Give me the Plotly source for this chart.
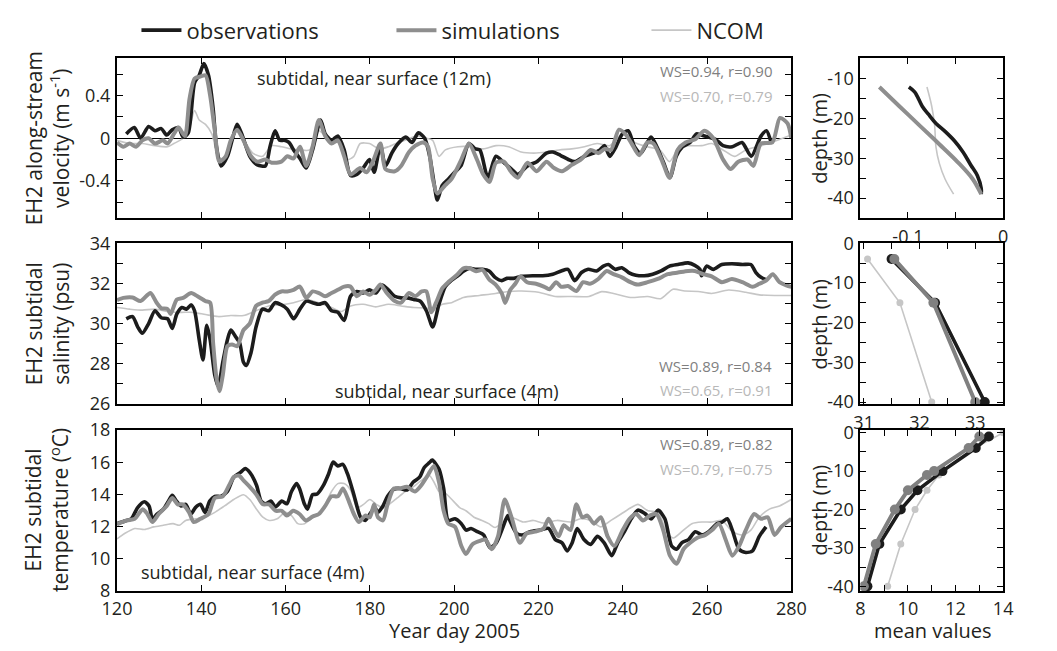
import plotly.graph_objects as go

# ---------------- data: time series (Year day 2005) ----------------
vel_obs_day = [122.2,124.1,125.6,127.5,129,130.5,131.8,133.1,134.6,135.7,136.9,138.4,139.5,140.6,141.7,142.8,143.6,144.7,146.2,147.3,
               148.5,149.6,151.5,153.3,155.2,156.3,157.5,158.6,159.7,160.8,161.9,163.4,164.9,166.4,168.3,169.4,170.9,172.4,173.9,175.4,
               176.9,178.4,179.9,181,182.5,183.7,185.2,186.7,188.5,190,191.5,193,194.2,195.3,196,197.2,198.7,
               200.1,201.6,203.5,205,206.1,208,209.9,211.8,213.6,215.1,217.4,219.6,221.9,223.4,225.2,227.1,228.6,230.9,233.1,234.6,
               235.7,236.9,238.4,239.9,241.3,242.8,244.3,246.7,248.1,249.7,251.2,252.7,254.2,256,257.5,259.4,262,263.8,266,268.3,
               270.5,272.8,274.1,275.2]
vel_obs = [0.04,0.10,0.0,0.11,0.07,0.09,0.03,0.08,0.10,0.01,0.05,0.52,0.59,0.70,0.59,0.28,-0.08,-0.26,-0.17,-0.02,
           0.13,0.04,-0.17,-0.25,-0.26,-0.08,0.07,-0.02,-0.02,-0.04,-0.11,-0.19,-0.28,-0.11,0.17,0.04,-0.02,0.02,-0.11,-0.35,
           -0.34,-0.28,-0.20,-0.32,-0.07,-0.26,-0.14,-0.05,0.01,-0.04,0.05,0.0,-0.17,-0.44,-0.58,-0.44,-0.38,
           -0.32,-0.26,-0.05,-0.10,-0.11,-0.37,-0.17,-0.23,-0.29,-0.34,-0.26,-0.22,-0.14,-0.13,-0.16,-0.20,-0.22,-0.17,-0.14,-0.11,
           -0.07,-0.17,-0.08,0.04,0.07,-0.08,-0.14,0.01,-0.08,-0.23,-0.37,-0.17,-0.08,-0.04,0.04,0.02,-0.01,-0.07,-0.08,-0.04,
           -0.17,0.02,0.07,-0.04]

vel_sim_day = [120,121.5,123,124.5,126,127.5,129,130.9,132,133.5,134.6,136.1,137.2,138.4,139.9,141,142.1,143.2,144.3,145.8,
               147,148.5,150,151.8,153.3,155.2,156.7,159,160.4,161.9,163.4,164.9,166.4,167.9,169.4,170.9,172.4,173.9,175.4,177.7,
               179.2,180.7,182.5,183.7,185.9,187.4,189.3,190.8,192.7,193.8,194.9,196,197.9,
               199.4,201.7,203.5,205.4,206.9,208.4,209.9,211.8,213.6,215.1,217.4,219.6,221.9,223.7,225.6,227.9,230.1,232.4,234.2,235.7,
               237.2,239.1,240.6,242.1,243.9,245.8,247.3,249.2,251.1,253,254.9,257.2,259.4,261.5,263.8,265.6,267.4,269.6,271,272.8,
               275.5,277.3,279.1,280]
vel_sim = [-0.04,-0.08,-0.05,-0.08,-0.02,0.0,-0.05,-0.02,-0.05,0.04,0.10,0.02,0.37,0.56,0.58,0.59,0.40,0.07,-0.22,-0.17,
           -0.02,0.08,-0.02,-0.17,-0.22,-0.20,-0.23,-0.22,-0.17,-0.19,-0.08,-0.26,-0.08,0.17,0.02,-0.05,-0.02,-0.17,-0.34,-0.28,
           -0.32,-0.22,-0.05,-0.29,-0.31,-0.26,-0.13,-0.07,-0.04,-0.08,-0.38,-0.52,-0.44,
           -0.38,-0.20,-0.05,-0.20,-0.34,-0.41,-0.23,-0.22,-0.32,-0.37,-0.23,-0.31,-0.22,-0.28,-0.31,-0.25,-0.20,-0.11,-0.14,-0.10,
           -0.11,0.08,0.04,-0.05,-0.16,-0.04,-0.05,-0.20,-0.37,-0.11,-0.04,-0.01,0.07,0.0,-0.20,-0.29,-0.22,-0.20,-0.26,-0.05,
           -0.04,0.19,0.14,0.0]

vel_ncom_day = [120,123,126,129,132,133.5,135.7,137.2,138.4,139.5,141,142.5,144,145.5,147,148.5,150,152.2,154.5,156.7,
                159,161.2,163.4,165.7,167.9,170.2,172.4,174.7,176.2,177.7,179.9,182.2,184.4,186.7,188.9,191.2,193.4,194.9,196.4,197.9,
                200.9,203.9,206.9,209.9,212.9,215.9,218.9,221.9,224.9,227.9,230.9,233.9,236.9,239.9,242.8,245.8,248.8,251.1,253.4,255.7,
                258.7,261.1,263.8,266.5,269.2,271.9,274.6,277.3,280]
vel_ncom = [-0.02,-0.05,-0.05,-0.07,-0.08,-0.05,0.0,0.10,0.26,0.17,0.13,0.04,-0.17,-0.20,-0.05,0.07,-0.01,-0.14,-0.17,-0.07,
            -0.08,-0.10,-0.11,-0.11,0.07,-0.01,-0.04,-0.20,-0.17,-0.05,-0.05,-0.10,-0.08,-0.04,-0.01,0.02,0.0,-0.02,-0.17,-0.11,
            -0.08,-0.08,-0.10,-0.07,-0.08,-0.13,-0.14,-0.13,-0.11,-0.10,-0.08,-0.05,-0.07,0.04,-0.04,-0.08,-0.11,-0.22,-0.08,-0.07,
            -0.07,-0.05,-0.11,-0.17,-0.11,-0.08,-0.05,-0.01,0.03]

sal_obs_day = [122.2,123.7,124.9,126,127.5,129,130.5,132,133.1,134.2,135.4,136.5,137.6,138.4,139.5,140.4,141.3,142.1,143.2,144,
               145.1,146.2,147,148.1,149.1,150,150.7,151.8,153,154.5,156,157.5,159,160.4,161.9,163.4,164.9,166.4,167.9,169.4,
               170.9,172.4,173.9,175.4,176.9,178.4,179.9,181.4,182.9,184.4,185.9,187.4,188.9,190.4,191.9,193.4,194.9,196.4,197.9,199.4,
               201,202.2,203.7,205.2,206.7,208.3,209.7,211.3,212.5,214.1,216.1,218.6,221,223.4,225.4,227,228.6,230.2,231.8,233.8,
               235.4,236.6,238.2,239.8,241.4,243.1,245.1,247.1,249.1,251.1,253.1,255.5,257.1,258.3,258.7,259.9,261.5,263.5,265.9,268.4,
               270.4,271.6,272.8,274]
sal_obs = [30.24,30.35,29.84,29.52,30.0,30.64,30.29,30.24,29.76,30.48,30.8,30.72,30.93,30.64,29.2,28.19,29.92,29.2,27.44,26.88,
           28.08,29.2,29.68,29.36,29.04,28.08,27.92,28.56,29.84,30.72,30.64,31.04,30.93,30.72,30.24,30.72,31.12,31.04,30.96,31.04,
           30.64,30.56,30.16,31.36,31.6,31.52,31.68,31.52,31.92,31.68,31.36,31.28,31.28,31.2,31.12,30.64,29.84,30.96,31.84,32.16,
           32.4,32.6,32.75,32.7,32.7,32.62,32.3,32.14,32.25,32.25,32.35,32.38,32.38,32.46,32.62,32.7,32.14,32.54,32.7,32.62,
           32.86,32.94,32.7,32.78,32.54,32.41,32.38,32.46,32.62,32.86,32.94,33.02,32.9,32.7,32.38,32.86,32.7,32.94,32.98,32.94,
           32.94,32.54,32.3,32.19]

sal_sim_day = [120,121.5,123.7,125.6,127.9,129.4,130.5,132,132.7,134.2,135.7,137.6,139.1,141,142.1,142.8,143.6,144.3,145.1,146.2,
               147.3,148.5,150,151.5,153,154.5,156,157.5,159,160.4,161.9,163.4,164.9,166.4,167.9,169.4,170.9,172.4,173.9,175.4,
               176.9,178.4,179.9,181.4,182.5,184,185.9,187.4,189.3,190.8,192.3,193.4,194.6,195.7,197.2,198.7,
               200.7,202.2,203.7,205.2,206.7,208.3,209.8,211.3,212.1,213.3,214.5,215.7,217.3,219.4,221.4,222.6,224.2,225.4,227,229,
               230.6,232.2,234.2,236.2,237.8,239.8,241.8,243.5,245.9,248.3,250.7,253.1,255.5,257.1,259.1,261.1,263.5,265.9,268.4,270.8,
               272.4,274,275.6,277.2,278.8,280]
sal_sim = [31.17,31.28,31.3,31.12,31.52,31.04,30.77,30.72,30.48,31.2,31.28,31.52,31.36,31.12,31.04,29.04,27.28,26.64,27.44,28.88,
           28.96,28.88,29.68,30.0,30.88,31.04,31.12,31.44,31.6,31.6,31.68,31.84,31.28,31.6,31.52,31.36,31.52,31.68,31.84,31.84,
           31.36,31.6,31.44,31.68,31.95,31.52,31.12,31.04,31.52,31.36,31.6,31.6,30.56,31.04,31.76,32.08,
           32.43,32.75,32.75,32.6,32.67,32.2,31.95,31.5,31.03,31.67,31.98,32.35,32.06,31.98,31.83,31.71,32.06,31.83,31.87,31.62,
           32.06,31.98,32.22,32.62,32.46,32.3,32.06,31.94,32.06,32.22,32.46,32.54,32.62,32.62,32.46,32.35,32.06,32.22,32.06,31.83,
           31.98,32.14,32.46,32.06,31.9,31.83]

sal_ncom_day = [120,123,126,129,132,135,138,141,144,147,150,153,156,159,161.9,164.9,167.9,170.9,173.2,175.4,
                178.4,181.4,184.4,187.4,190.4,193.4,194.9,197.2,199.4,202.2,206,209.8,212.8,216,220,224,228,232,235,237.8,
                241.8,245.9,249,251.9,254.7,257.9,261.1,265.1,269.2,272.4,276.4,280]
sal_ncom = [30.8,30.72,30.67,30.72,30.6,30.56,30.56,30.45,30.35,30.4,30.4,30.64,30.88,30.93,31.04,31.2,31.04,30.8,30.6,30.88,
            30.96,30.83,30.96,30.88,30.8,30.77,30.67,30.96,31.04,31.3,31.4,31.5,31.6,31.62,31.56,31.35,31.35,31.35,31.59,31.5,
            31.3,31.35,31.24,31.71,31.62,31.6,31.5,31.67,31.56,31.43,31.4,31.4]

tmp_obs_day = [120.0,121.9,123.4,124.9,126.5,127.6,128.4,129.5,131.0,132.2,133.1,134.1,135.2,136.3,137.5,138.6,139.8,140.9,142.0,143.2,
               144.7,146.2,147.7,149.3,150.4,151.5,153.1,154.2,155.3,156.5,157.6,159.1,160.3,161.4,162.6,163.3,164.5,165.2,166.4,167.5,
               169.0,170.2,171.3,172.4,173.6,174.7,176.2,177.8,178.9,180.0,181.2,181.9,183.1,184.2,185.7,187.2,188.8,190.3,191.8,192.9,
               194.1,194.8,196.4,197.5,198.6,200.2,201.7,202.8,204.0,205.5,207.0,208.5,210.0,211.6,212.7,
               213.2,214.8,216.4,218,220.4,222.4,224,225.6,226.8,228,229.2,230.8,232.4,234,235.6,237.4,238.8,240.4,242,243.6,
               245.2,246.8,248.4,250,251.6,252.8,254,255.6,257.2,258.8,260.4,262.4,263.6,264.8,266,267.6,269.2,270.8,272.4,274]
tmp_obs = [12.18,12.34,12.48,13.18,13.54,13.28,12.48,12.78,13.08,13.58,13.94,13.58,13.28,13.38,12.78,13.18,13.38,12.88,13.58,13.88,
           13.88,14.18,15.07,15.37,15.61,15.37,14.57,13.58,13.42,13.58,13.22,13.58,13.42,14.18,14.67,14.37,13.38,13.08,13.98,14.02,
           14.57,15.27,16.01,15.77,15.87,15.27,13.98,12.58,12.38,12.78,13.18,12.88,13.28,13.88,14.33,14.37,14.27,14.77,15.07,15.67,
           15.97,16.13,15.57,14.37,12.38,12.48,12.18,11.78,11.88,11.68,11.48,10.69,10.99,11.98,12.68,
           12.38,11.58,11.48,11.68,11.78,11.88,11.19,10.99,10.49,10.99,11.88,11.19,10.89,11.39,10.99,10.19,10.99,11.68,12.48,13.02,
           12.82,12.48,13.02,12.48,10.79,10.59,10.99,11.19,11.68,11.48,11.68,12.18,12.28,12.48,11.78,10.59,10.39,10.49,11.39,11.98]

tmp_sim_day = [120.0,122.3,124.2,126.1,127.2,128.4,129.9,131.8,133.1,134.4,135.6,137.1,138.2,139.8,141.7,143.2,145.1,146.6,147.7,148.9,
               150.0,151.5,153.1,154.6,156.1,157.6,159.1,160.3,161.8,163.3,164.8,166.4,167.9,169.4,170.9,172.4,173.6,174.7,176.2,177.4,
               178.9,180.0,181.0,181.9,183.1,184.2,185.7,187.2,188.8,190.7,192.2,193.7,195.2,196.4,197.5,198.6,200.2,201.7,202.8,204.3,
               205.9,207.4,208.9,210.4,212.0,
               213.6,215.6,217.2,219.2,221.2,222.4,223.6,224.8,226,227.6,229,230.4,231.6,233.2,234.8,236.4,238,240,241.6,243.2,
               244.8,246.4,248,249.6,251.2,252.8,254.4,256,257.6,259.6,261.2,262.8,264.4,266,267.6,269.2,271.2,272.8,274.4,276,
               277.6,280]
tmp_sim = [12.14,12.38,12.48,13.08,12.78,12.28,12.78,13.28,13.78,13.38,13.38,12.88,12.28,12.48,12.78,13.78,13.88,14.57,15.07,15.17,
           14.87,14.47,13.98,13.38,13.38,12.98,12.98,12.68,12.98,12.78,12.38,12.62,12.78,13.28,13.88,13.88,14.37,13.78,12.78,12.28,
           12.68,12.58,13.38,12.58,12.38,13.38,14.37,14.37,14.47,14.18,14.57,15.17,15.77,14.77,12.98,12.18,11.98,10.79,10.29,10.89,
           11.09,11.19,10.59,11.39,13.68,
           12.58,10.99,11.58,11.68,11.88,12.48,11.88,11.39,12.08,11.78,13.38,12.58,12.68,12.18,12.58,11.39,10.79,11.78,12.48,12.78,
           12.38,12.68,12.78,11.78,10.19,9.69,10.59,10.99,11.29,11.48,11.78,12.18,11.19,10.19,10.79,11.78,12.78,12.48,12.58,11.48,
           11.98,12.48]

tmp_ncom_day = [120,121.9,124.2,126.5,128.7,131,133.3,134.8,136.3,138.6,140.9,143.2,145.5,147.7,150,151.5,153.1,154.6,156.1,158,
                159.9,161.4,162.9,164.5,166,167.9,169.4,170.9,172.4,173.9,175.4,177,178.5,180,181.5,183.1,184.6,186.5,188.4,190.3,
                192.2,194.1,195.2,196.4,197.9,199.8,201.3,202.8,204.7,206.6,208.2,209.7,211.6,213.5,
                216.4,218.8,221.2,224.4,227.6,230,232.4,234.8,237.2,239.6,242,243.6,246,248.4,250.4,252,254,256.4,258.8,261.2,
                263.6,266,268.4,270.4,272.4,274.8,277.2,280]
tmp_ncom = [11.23,11.58,11.88,11.82,11.98,12.08,12.18,12.08,12.38,12.48,12.58,12.88,13.28,13.68,13.98,13.68,13.08,12.58,12.38,12.48,
            12.88,12.68,12.18,12.18,12.48,12.78,13.38,14.18,14.67,14.67,14.27,13.18,13.38,13.68,13.38,13.18,13.38,13.78,14.18,14.47,
            14.87,15.17,14.77,14.18,14.08,13.58,13.18,12.98,12.58,12.38,12.18,11.94,12.28,12.58,
            12.28,12.38,12.22,12.38,12.28,12.48,12.38,11.98,12.38,12.78,13.18,13.38,12.98,12.88,11.68,11.29,11.68,12.18,12.28,12.28,
            12.38,11.68,11.48,11.78,12.58,13.08,13.28,13.68]

# ---------------- data: mean profiles ----------------
pv_obs_val = [-0.099,-0.093,-0.090,-0.085,-0.0785,-0.0705,-0.061,-0.051,-0.042,-0.034,-0.027,-0.023,-0.023]
pv_obs_dep = [-12.2,-13.4,-14.6,-17,-19,-21.3,-23.3,-25.7,-28.5,-31.7,-34.4,-37.6,-39]
pv_sim_val = [-0.13,-0.109,-0.0865,-0.067,-0.048,-0.032,-0.023]
pv_sim_dep = [-12.2,-17,-22.1,-26.5,-30.9,-35.2,-39]
pv_ncom_val = [-0.080,-0.075,-0.072,-0.0705,-0.067,-0.061,-0.052]
pv_ncom_dep = [-12.2,-17,-21.7,-27.3,-31.3,-35.2,-39]

ps_dep = [-4, -15, -40]
ps_obs = [31.5, 32.28, 33.17]
ps_sim = [31.55, 32.25, 33.0]
ps_ncom = [31.07, 31.65, 32.22]

pt_obs_dep = [-1, -4, -10, -15, -20, -29, -40]
pt_obs = [13.4, 12.85, 11.45, 10.4, 9.7, 8.8, 8.3]
pt_sim_dep = [-1, -4, -10, -11, -15, -20, -29, -40]
pt_sim = [13.0, 12.55, 11.1, 10.8, 10.0, 9.45, 8.65, 8.15]
pt_ncom_dep = [0, -4, -10, -11, -15, -20, -29, -40]
pt_ncom = [14.0, 12.8, 11.45, 11.3, 10.8, 10.3, 9.7, 9.15]

# ---------------- styling ----------------
W, H = 1057, 651
C_OBS, C_SIM, C_NCOM = '#1c1c1c', '#8e8e8e', '#c6c6c6'
C_SIM_P = '#808080'
FONT = 'Open Sans'
TXT = '#231f20'

def px_x(x): return x / W
def px_y(y): return 1 - y / H

MAIN_X = [px_x(105), px_x(799)]
RIGHT_X = [px_x(870), px_x(1017)]
ROW_Y = [[px_y(213), px_y(47)], [px_y(406), px_y(239)], [px_y(600), px_y(433)]]

fig = go.Figure()

def series(x, y, color, width, xa, ya, name=None, legend=False, rank=None):
    fig.add_trace(go.Scatter(x=x, y=y, mode='lines', name=name, showlegend=legend,
                             legendrank=rank if rank else 1000,
                             line=dict(color=color, width=width, shape='spline', smoothing=0.7),
                             xaxis=xa, yaxis=ya, hoverinfo='skip'))

# top row
series(vel_ncom_day, vel_ncom, C_NCOM, 1.6, 'x', 'y', 'NCOM', True, 3)
series(vel_obs_day, vel_obs, C_OBS, 3.6, 'x', 'y', 'observations', True, 1)
series(vel_sim_day, vel_sim, C_SIM, 4.0, 'x', 'y', 'simulations', True, 2)
# middle row
series(sal_ncom_day, sal_ncom, C_NCOM, 1.6, 'x2', 'y2')
series(sal_obs_day, sal_obs, C_OBS, 3.6, 'x2', 'y2')
series(sal_sim_day, sal_sim, C_SIM, 4.0, 'x2', 'y2')
# bottom row
series(tmp_ncom_day, tmp_ncom, C_NCOM, 1.6, 'x3', 'y3')
series(tmp_obs_day, tmp_obs, C_OBS, 3.6, 'x3', 'y3')
series(tmp_sim_day, tmp_sim, C_SIM, 4.0, 'x3', 'y3')

# profiles
def prof(x, y, color, width, xa, ya, msize=None):
    fig.add_trace(go.Scatter(x=x, y=y, mode='lines+markers' if msize else 'lines', showlegend=False,
                             line=dict(color=color, width=width, shape='spline' if not msize else 'linear'),
                             marker=dict(size=msize or 1, color=color),
                             xaxis=xa, yaxis=ya, hoverinfo='skip'))

prof(pv_ncom_val, pv_ncom_dep, C_NCOM, 1.6, 'x4', 'y4')
prof(pv_obs_val, pv_obs_dep, C_OBS, 3.6, 'x4', 'y4')
prof(pv_sim_val, pv_sim_dep, C_SIM, 4.0, 'x4', 'y4')
prof(ps_ncom, ps_dep, C_NCOM, 1.6, 'x5', 'y5', 7)
prof(ps_obs, ps_dep, C_OBS, 3.6, 'x5', 'y5', 10)
prof(ps_sim, ps_dep, C_SIM_P, 4.0, 'x5', 'y5', 10)
prof(pt_ncom, pt_ncom_dep, C_NCOM, 1.6, 'x6', 'y6', 7)
prof(pt_obs, pt_obs_dep, C_OBS, 3.6, 'x6', 'y6', 10)
prof(pt_sim, pt_sim_dep, C_SIM_P, 4.0, 'x6', 'y6', 10)

tickfont = dict(family=FONT, size=18, color=TXT)

def ax(domain, rng, tickvals, ticktext, anchor, showlabels=True, zeroline=False):
    return dict(domain=domain, range=rng, tickvals=tickvals, ticktext=ticktext,
                showticklabels=showlabels, anchor=anchor, ticks='inside', ticklen=6, tickwidth=1.3,
                tickcolor='black', showline=True, linecolor='black', linewidth=2, mirror='ticks',
                showgrid=False, zeroline=zeroline, zerolinecolor='black', zerolinewidth=1,
                tickfont=tickfont, ticklabelstandoff=1)

day_ticks = [120, 140, 160, 180, 200, 220, 240, 260, 280]
day_text = [str(d) for d in day_ticks]

layout_axes = {}
layout_axes['xaxis'] = ax(MAIN_X, [120, 280], day_ticks, day_text, 'y', False)
layout_axes['xaxis2'] = ax(MAIN_X, [120, 280], day_ticks, day_text, 'y2', False)
layout_axes['xaxis3'] = ax(MAIN_X, [120, 280], day_ticks, day_text, 'y3', True)
layout_axes['yaxis'] = ax(ROW_Y[0], [-0.75, 0.75], [-0.6, -0.4, -0.2, 0, 0.2, 0.4, 0.6],
                          [' ', '-0.4', ' ', '0', ' ', '0.4', ' '], 'x', True, True)
layout_axes['yaxis2'] = ax(ROW_Y[1], [26, 34], [26, 27, 28, 29, 30, 31, 32, 33, 34],
                           ['26', ' ', '28', ' ', '30', ' ', '32', ' ', '34'], 'x2')
layout_axes['yaxis3'] = ax(ROW_Y[2], [8, 18], [8, 10, 12, 14, 16, 18],
                           ['8', '10', '12', '14', '16', '18'], 'x3')

layout_axes['xaxis4'] = ax(RIGHT_X, [-0.15, 0], [-0.15, -0.1, -0.05, 0], [' ', '-0.1', ' ', '0'], 'y4')
layout_axes['yaxis4'] = ax(ROW_Y[0], [-45, -5], [-45, -40, -35, -30, -25, -20, -15, -10, -5],
                           [' ', '-40', ' ', '-30', ' ', '-20', ' ', '-10', ' '], 'x4')
layout_axes['xaxis5'] = ax(RIGHT_X, [30.94, 33.5], [31, 31.5, 32, 32.5, 33, 33.5], ['31', ' ', '32', ' ', '33', ' '], 'y5')
layout_axes['yaxis5'] = ax(ROW_Y[1], [-40.5, 0], [-40, -35, -30, -25, -20, -15, -10, -5, 0],
                           ['-40', ' ', '-30', ' ', '-20', ' ', '-10', ' ', '0'], 'x5')
layout_axes['xaxis6'] = ax(RIGHT_X, [8, 14], [8, 9, 10, 11, 12, 13, 14], ['8', ' ', '10', ' ', '12', ' ', '14'], 'y6')
layout_axes['yaxis6'] = ax(ROW_Y[2], [-41.2, 0.7], [-40, -35, -30, -25, -20, -15, -10, -5, 0],
                           ['-40', ' ', '-30', ' ', '-20', ' ', '-10', ' ', '0'], 'x6')

ann = []
def text(x, y, s, size, color=TXT, xanchor='center', angle=0):
    ann.append(dict(x=px_x(x), y=px_y(y), xref='paper', yref='paper', text=s, showarrow=False,
                    xanchor=xanchor, yanchor='middle', textangle=angle,
                    font=dict(family=FONT, size=size, color=color)))

# y titles
text(33, 130, 'EH2 along-stream<br>velocity (m s<sup>-1</sup>)', 21, angle=-90)
text(33, 323, 'EH2 subtidal<br>salinity (psu)', 21, angle=-90)
text(33, 516, 'EH2 subtidal<br>temperature (<sup>o</sup>C)', 21, angle=-90)
text(828, 130, 'depth (m)', 20, angle=-90)
text(828, 323, 'depth (m)', 20, angle=-90)
text(828, 516, 'depth (m)', 20, angle=-90)
# x titles
text(452, 641, 'Year day 2005', 20)
text(945, 641, 'mean values', 20)
# panel notes
text(370, 67, 'subtidal, near surface (12m)', 18)
text(445, 392, 'subtidal, near surface (4m)', 18)
text(245, 580, 'subtidal, near surface (4m)', 18)
for (yy, s, c) in [(60, 'WS=0.94, r=0.90', '#7f7f7f'), (86, 'WS=0.70, r=0.79', '#b8b8b8'),
                   (366, 'WS=0.89, r=0.84', '#7f7f7f'), (391, 'WS=0.65, r=0.91', '#b8b8b8'),
                   (447, 'WS=0.89, r=0.82', '#7f7f7f'), (473, 'WS=0.79, r=0.75', '#b8b8b8')]:
    text(781, yy, s, 15, color=c, xanchor='right')

fig.update_layout(
    width=W, height=H, margin=dict(l=0, r=0, t=0, b=0),
    paper_bgcolor='white', plot_bgcolor='white',
    showlegend=True,
    legend=dict(orientation='h', x=px_x(125), y=px_y(18), xanchor='left', yanchor='middle',
                font=dict(family=FONT, size=22, color=TXT), entrywidth=200, entrywidthmode='pixels',
                itemwidth=40, bgcolor='rgba(0,0,0,0)', traceorder='normal'),
    annotations=ann,
    **layout_axes
)

fig.write_html('out.html')
